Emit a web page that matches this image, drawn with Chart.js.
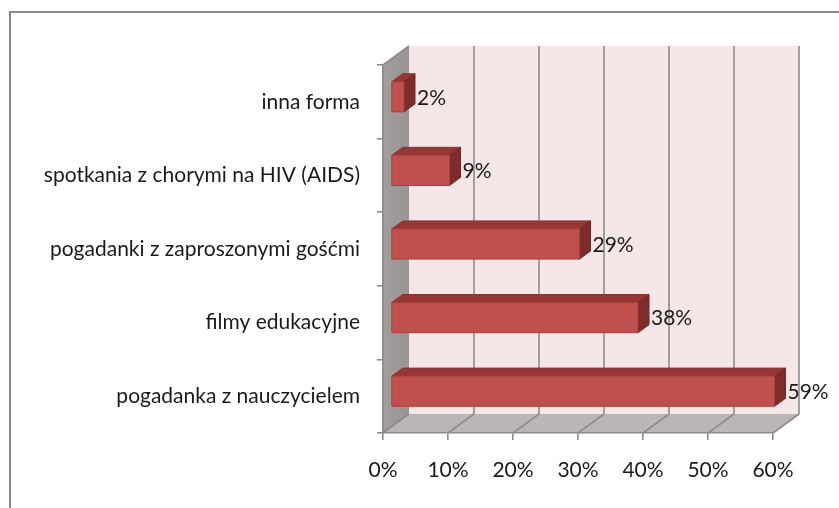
<!DOCTYPE html>
<html>
<head>
<meta charset="utf-8">
<script src="https://cdn.jsdelivr.net/npm/chart.js@4"></script>
<style>
  body { margin: 0; background: #fff; }
  #wrap { position: relative; width: 839px; height: 508px; }
</style>
</head>
<body>
<div id="wrap"><canvas id="barChart" width="839" height="508"></canvas></div>
<script>
var categories = ["inna forma", "spotkania z chorymi na HIV (AIDS)", "pogadanki z zaproszonymi gośćmi", "filmy edukacyjne", "pogadanka z nauczycielem"];
var percentValues = [2, 9, 29, 38, 59];
var tickValues = [0, 10, 20, 30, 40, 50, 60];

// depth of the 3D box (walls) and of the bars
var wallDX = 26, wallDY = -19;
var barShiftX = 8, barShiftY = -5;
var barDX = 11, barDY = -8;
var gridColor = "#8c8c8c";
var fontFamily = "Lato, 'Open Sans', sans-serif";

function poly(ctx, pts, fill, stroke) {
    ctx.beginPath();
    ctx.moveTo(pts[0][0], pts[0][1]);
    for (var i = 1; i < pts.length; i++) ctx.lineTo(pts[i][0], pts[i][1]);
    ctx.closePath();
    if (fill) { ctx.fillStyle = fill; ctx.fill(); }
    if (stroke) { ctx.strokeStyle = stroke; ctx.lineWidth = 1; ctx.stroke(); }
}

var walls3d = {
    id: 'walls3d',
    beforeDraw: function (chart) {
        var ctx = chart.ctx;
        var a = chart.chartArea;
        var xs = chart.scales.x;
        ctx.save();
        // frame round the whole chart
        ctx.strokeStyle = "#878787";
        ctx.lineWidth = 2;
        ctx.beginPath();
        ctx.moveTo(10, 508);
        ctx.lineTo(10, 12);
        ctx.lineTo(839, 12);
        ctx.stroke();

        // back wall
        poly(ctx, [[a.left + wallDX, a.top + wallDY], [a.right + wallDX, a.top + wallDY],
                   [a.right + wallDX, a.bottom + wallDY], [a.left + wallDX, a.bottom + wallDY]], "#f5e7e8");
        // side wall
        var g = ctx.createLinearGradient(a.left, 0, a.left + wallDX, 0);
        g.addColorStop(0, "#a29e9e");
        g.addColorStop(1, "#9a9494");
        poly(ctx, [[a.left, a.top], [a.left + wallDX, a.top + wallDY],
                   [a.left + wallDX, a.bottom + wallDY], [a.left, a.bottom]], g);
        // floor
        poly(ctx, [[a.left, a.bottom], [a.right, a.bottom],
                   [a.right + wallDX, a.bottom + wallDY], [a.left + wallDX, a.bottom + wallDY]], "#bcb5b5");

        // grid lines on back wall and floor
        ctx.strokeStyle = gridColor;
        ctx.lineWidth = 1.6;
        tickValues.forEach(function (v) {
            var px = xs.getPixelForValue(v);
            ctx.beginPath();
            if (v > 0) {
                ctx.moveTo(px + wallDX, a.top + wallDY);
                ctx.lineTo(px + wallDX, a.bottom + wallDY);
            }
            ctx.moveTo(px, a.bottom);
            ctx.lineTo(px + wallDX, a.bottom + wallDY);
            ctx.stroke();
        });
        ctx.beginPath();
        ctx.moveTo(a.left, a.top);
        ctx.lineTo(a.left + wallDX, a.top + wallDY);
        ctx.stroke();
        ctx.restore();
    },
    afterDatasetsDraw: function (chart) {
        var ctx = chart.ctx;
        var meta = chart.getDatasetMeta(0);
        ctx.save();
        meta.data.forEach(function (bar, i) {
            var x0 = bar.base + barShiftX;
            var x1 = bar.x + barShiftX;
            var y0 = bar.y - bar.height / 2 + barShiftY;
            var y1 = bar.y + bar.height / 2 + barShiftY;
            // top face
            poly(ctx, [[x0, y0], [x1, y0], [x1 + barDX, y0 + barDY], [x0 + barDX, y0 + barDY]], "#953735", "#8a3230");
            // right face
            poly(ctx, [[x1, y0], [x1 + barDX, y0 + barDY], [x1 + barDX, y1 + barDY], [x1, y1]], "#7d2c2a", "#742826");
            // front face
            poly(ctx, [[x0, y0], [x1, y0], [x1, y1], [x0, y1]], "#c0504d", "#a8403d");

            ctx.fillStyle = "#1a1a1a";
            ctx.font = "21px " + fontFamily;
            ctx.textBaseline = "middle";
            ctx.textAlign = "left";
            ctx.fillText(percentValues[i] + "%", x1 + barDX + 2, (y0 + y1) / 2 + 1);
        });
        ctx.restore();
    }
};

var ctx = document.getElementById("barChart").getContext("2d");
new Chart(ctx, {
    type: 'bar',
    data: {
        labels: categories,
        datasets: [{
            label: "odpowiedzi",
            data: percentValues,
            backgroundColor: 'rgba(0,0,0,0)',
            borderWidth: 0,
            categoryPercentage: 1,
            barPercentage: 0.41
        }]
    },
    options: {
        indexAxis: 'y',
        responsive: false,
        animation: false,
        layout: { padding: { left: 0, top: 65, right: 66, bottom: 0 } },
        plugins: { legend: { display: false }, tooltip: { enabled: false } },
        scales: {
            x: {
                min: 0,
                max: 60,
                ticks: {
                    stepSize: 10,
                    padding: 18,
                    color: "#1a1a1a",
                    font: { size: 21, family: fontFamily },
                    maxRotation: 0,
                    callback: function (v) { return v + "%"; }
                },
                grid: { drawOnChartArea: false, drawTicks: true, tickLength: 7, color: gridColor, lineWidth: 1.6 },
                border: { display: true, color: gridColor, width: 1.6 },
                afterFit: function (s) { s.height = 75; }
            },
            y: {
                ticks: {
                    padding: 17,
                    color: "#1a1a1a",
                    font: { size: 21, family: fontFamily }
                },
                grid: { drawOnChartArea: false, drawTicks: true, tickLength: 6, color: gridColor, lineWidth: 1.6, offset: true },
                border: { display: true, color: gridColor, width: 1.6 },
                afterFit: function (s) { s.width = 383; }
            }
        }
    },
    plugins: [walls3d]
});
</script>
</body>
</html>
